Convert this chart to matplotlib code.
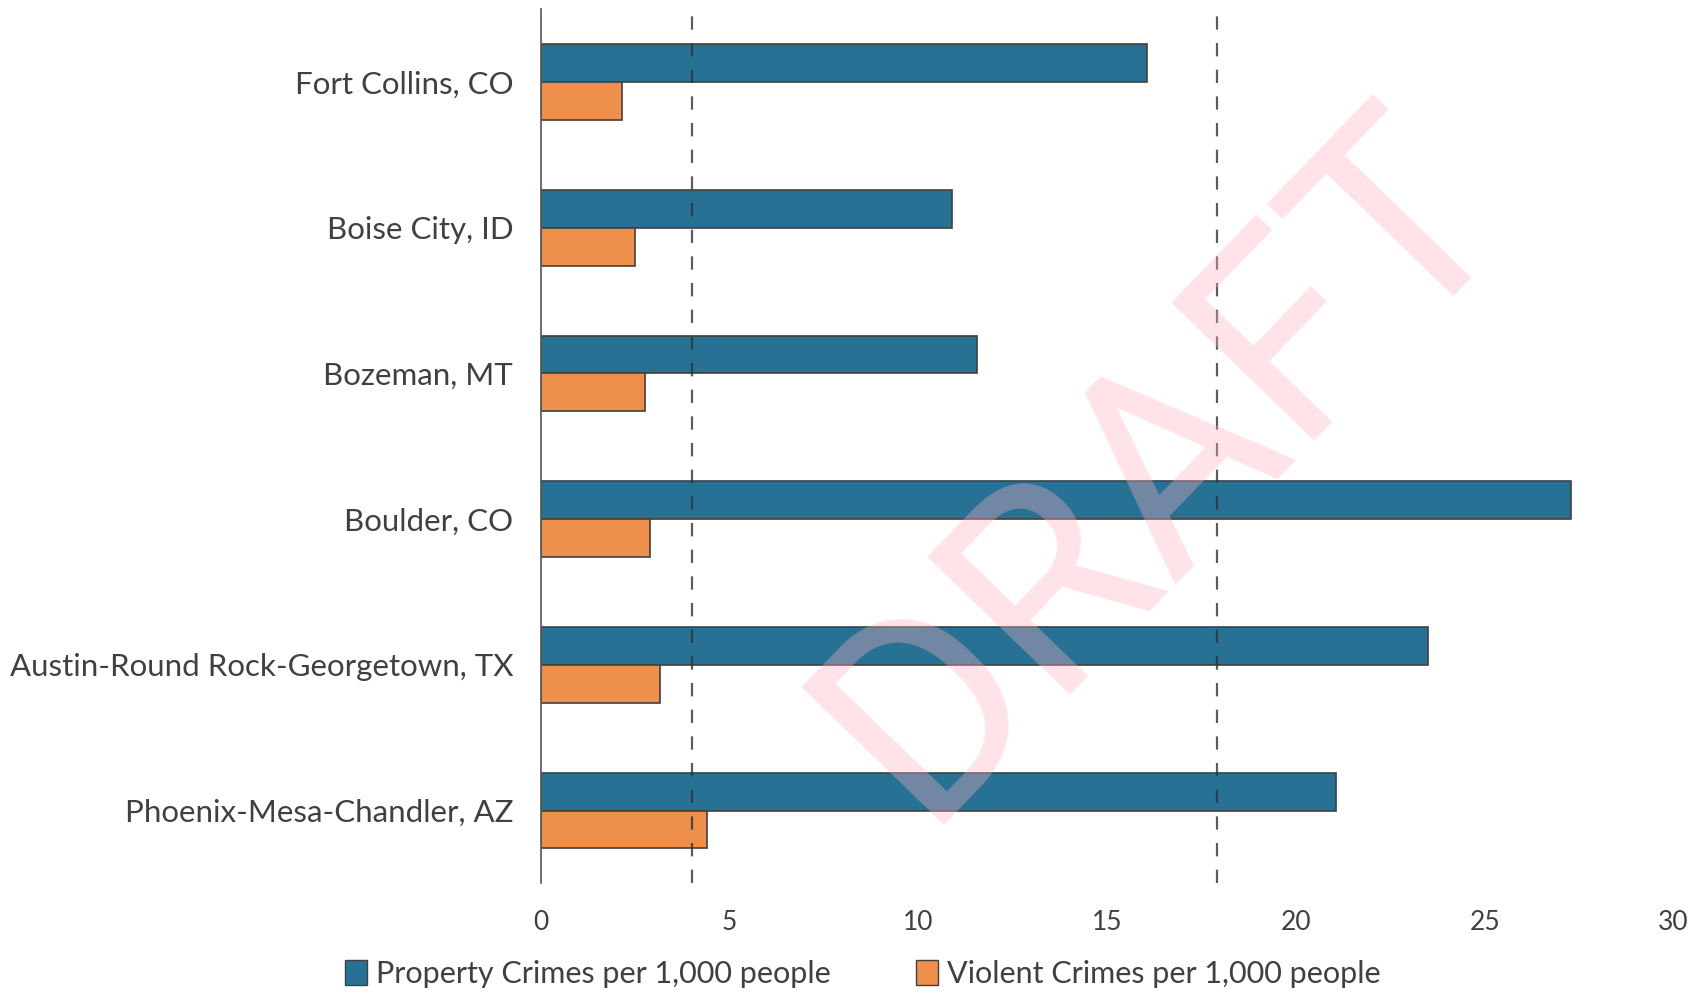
import numpy as np
import matplotlib.pyplot as plt
from matplotlib.patches import Patch

# dados
cidades = ['Fort Collins, CO', 'Boise City, ID', 'Bozeman, MT', 'Boulder, CO',
           'Austin-Round Rock-Georgetown, TX', 'Phoenix-Mesa-Chandler, AZ']
propriedade = [16.05, 10.9, 11.55, 27.3, 23.5, 21.05]
violento = [2.15, 2.5, 2.75, 2.9, 3.15, 4.4]
media_violento = 4.0
media_propriedade = 17.9

azul = '#277294'
laranja = '#EE8F4C'
cinza = '#404040'

plt.rcParams['font.family'] = ['Lato', 'DejaVu Sans']

fig = plt.figure(figsize=(16.92, 9.94), dpi=100)
ax = fig.add_axes([0.3197, 0.1113, 0.6693, 0.8795])

y = np.arange(len(cidades))
h = 0.26
ax.barh(y - h / 2, propriedade, height=h, color=azul, edgecolor=cinza, linewidth=1.2, zorder=2)
ax.barh(y + h / 2, violento, height=h, color=laranja, edgecolor=cinza, linewidth=1.2, zorder=2)

# linhas de referência tracejadas
for v in [media_violento, media_propriedade]:
    ax.axvline(v, color='#333333', linestyle=(0, (6, 6)), linewidth=1.6, alpha=0.8, zorder=3)

ax.set_ylim(len(cidades) - 0.5, -0.5)
ax.set_xlim(0, 30)
ax.set_yticks(y)
ax.set_yticklabels(cidades, fontsize=22.5, color=cinza)
ax.set_xticks(np.arange(0, 31, 5))
ax.tick_params(axis='x', labelsize=19, colors=cinza, length=0, pad=19)
ax.tick_params(axis='y', length=0, pad=20)
for s in ['top', 'right', 'bottom']:
    ax.spines[s].set_visible(False)
ax.spines['left'].set_color('#555555')
ax.spines['left'].set_linewidth(1.2)

# legenda
handles = [Patch(facecolor=azul, edgecolor=cinza, label='Property Crimes per 1,000 people'),
           Patch(facecolor=laranja, edgecolor=cinza, label='Violent Crimes per 1,000 people')]
fig.legend(handles=handles, loc='center', bbox_to_anchor=(0.51, 0.02), ncol=2,
           frameon=False, fontsize=22, labelcolor=cinza, handlelength=0.7, handleheight=0.9,
           handletextpad=0.3, columnspacing=2.8)

# marca d'água
fig.text(0.687, 0.532, 'DRAFT', fontsize=200, color='#FFB0C0', alpha=0.35, rotation=46,
         ha='center', va='center', family='Roboto', fontweight='normal', zorder=10)

fig.savefig('out.png', dpi=100)
